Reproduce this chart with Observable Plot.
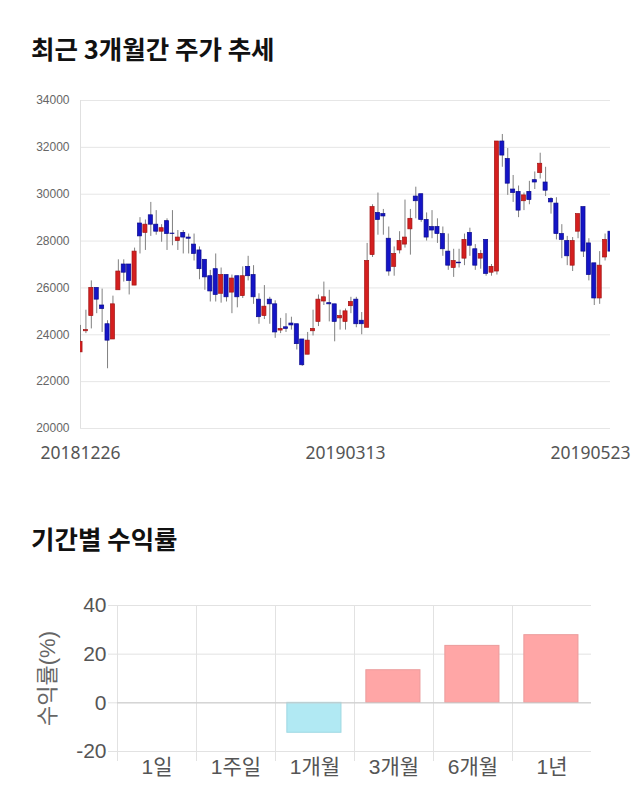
<!DOCTYPE html>
<html><head><meta charset="utf-8">
<script src="https://cdn.jsdelivr.net/npm/d3@7"></script>
<script src="https://cdn.jsdelivr.net/npm/@observablehq/plot@0.6"></script>
<style>
body{margin:0;background:#fff;width:640px;height:810px;position:relative;overflow:hidden;font-family:"Noto Sans CJK KR","Noto Sans",sans-serif;}
.title{position:absolute;left:31px;font-size:25.5px;font-weight:700;color:#111;line-height:1;white-space:nowrap;}
#t1{top:35px}
#t2{top:525px}
#c1{position:absolute;left:0;top:80px}
#c2{position:absolute;left:0;top:590px}
</style></head><body>
<div class="title" id="t1">최근 3개월간 주가 추세</div>
<div id="c1"></div>
<div class="title" id="t2">기간별 수익률</div>
<div id="c2"></div>
<script>
// ---- Candlestick data (20181226 .. 20190523) ----
const openP  = [23250,24150,24800,26000,25250,24450,23800,25900,27000,27000,26100,28750,28350,29100,28700,28400,28850,28320,28000,28350,28150,27850,27600,27200,26500,26800,25750,26550,25800,26500,25650,26900,26550,25500,24800,25500,25300,24180,24320,24480,24450,23800,23150,24150,24550,25420,25350,25300,24700,24550,25220,25500,24600,24300,27400,29200,29150,28100,26900,27600,27850,28500,29900,30000,28900,28600,28600,28300,27550,26850,27080,27250,28350,27650,27250,28050,26650,26700,32250,31500,30200,30100,29700,30100,30600,30900,30500,29800,29600,28300,28000,26950,28400,29450,27900,27050,25550,27300,28400];
const highP  = [24400,25050,26300,26000,25950,24600,25650,27200,27200,27000,27700,29000,28900,29650,29300,28700,28950,29300,28450,28450,28300,28300,27750,27200,26750,27450,26850,26550,26550,26500,26900,27350,26950,25750,26100,25600,25450,24700,24900,24750,24450,23800,24100,25050,25700,26250,25900,25300,25050,25100,25600,25600,24950,27900,29550,30050,29350,28600,27750,28400,29750,29350,30300,30000,29200,29300,28950,28600,28300,27650,27650,28300,28550,27850,27600,28050,27000,32250,32550,31950,30800,30350,30050,30550,30950,31750,31150,29850,29850,28700,28200,28150,29150,29450,28100,27050,27550,28300,28600];
const lowP   = [23250,24050,24250,24900,24100,22550,23800,25900,26250,25700,26100,27450,27600,28200,28250,27950,27600,27800,27600,27450,27450,27150,26350,25900,25400,25400,25350,25400,24900,25150,25550,26300,25300,24450,24650,24450,23850,24050,24100,24200,23350,22650,23150,23950,24350,25250,24550,23700,24200,24200,24900,24300,24000,24300,27300,28250,28250,26500,26500,27450,27700,27400,28950,28800,28000,28100,27900,27350,26750,26450,26850,26950,27350,26750,26800,26500,26500,26550,31150,29950,29650,29000,29300,29550,30200,30650,29900,29150,28050,27250,26950,26700,28100,27300,26300,25250,25300,27150,26950];
const closeP = [23700,24200,26000,25500,25100,23750,25300,26700,26650,26300,27550,28200,28700,28700,28400,28550,28300,28300,28150,28150,28100,27450,26800,26450,25850,25700,26550,25600,26400,25600,26500,26500,25600,24750,25200,25300,24100,24250,24250,24400,23600,22700,23750,24250,25500,25600,25300,24550,24800,25000,25400,24450,24450,27150,29450,28900,29050,26700,27450,28000,28150,28950,29700,28900,28150,28450,28300,27650,26950,27150,27050,28050,27800,26950,27450,26600,26900,32250,31650,30450,30050,29300,29950,29750,30500,31300,30150,29650,28300,28050,27350,28000,29150,27550,26550,25550,26950,28050,27550];
const dateTickIndex = [0, 49, 98];
const dateTickLabel = ["20181226", "20190313", "20190523"];
const priceTicks = [20000, 22000, 24000, 26000, 28000, 30000, 32000, 34000];

// ---- Period returns ----
const periods = ["1일", "1주일", "1개월", "3개월", "6개월", "1년"];
const returns = [0, 0, -12.3, 13.4, 23.4, 27.8];
const returnTicks = [-20, 0, 20, 40];

const idx = d3.range(openP.length);
const up = i => closeP[i] >= openP[i];

const chart1 = Plot.plot({
  width: 640, height: 400,
  marginTop: 20, marginBottom: 52, marginLeft: 80, marginRight: 30,
  x: {domain: [0, openP.length - 1], axis: null},
  y: {domain: [20000, 34000], axis: null},
  style: {background: "transparent", fontFamily: "'Liberation Sans', Arial, sans-serif"},
  marks: [
    Plot.gridY(priceTicks, {stroke: "#e6e6e6", strokeOpacity: 1}),
    Plot.ruleX([0], {stroke: "#e0e0e0"}),
    Plot.axisY(priceTicks, {tickSize: 0, tickPadding: 11, fontSize: 12, fill: "#666", tickFormat: d => String(d)}),
    Plot.ruleX(idx, {x: i => i, y1: i => lowP[i], y2: i => highP[i], stroke: "#808080", strokeWidth: 1, clip: true}),
    Plot.rect(idx, {
      x1: i => i - 0.38, x2: i => i + 0.38,
      y1: i => openP[i], y2: i => closeP[i],
      fill: i => up(i) ? "#d41f1f" : "#1414c6",
      stroke: i => up(i) ? "#a01414" : "#0a0a8c",
      strokeWidth: 0.7, clip: true
    }),
    Plot.text(dateTickIndex.slice(0, 2), {
      x: i => i, text: i => dateTickLabel[dateTickIndex.indexOf(i)],
      frameAnchor: "bottom", dy: 30, fontSize: 17.5, fill: "#555", fontFamily: "'Noto Sans', sans-serif"
    }),
    Plot.text(dateTickIndex.slice(2), {
      x: i => i, text: i => dateTickLabel[dateTickIndex.indexOf(i)],
      frameAnchor: "bottom", dy: 30, dx: 20, textAnchor: "end", fontSize: 17.5, fill: "#555", fontFamily: "'Noto Sans', sans-serif"
    })
  ]
});
document.getElementById("c1").append(chart1);

const pIdx = d3.range(periods.length);
const chart2 = Plot.plot({
  width: 640, height: 210,
  marginTop: 15, marginBottom: 49, marginLeft: 117, marginRight: 49,
  x: {domain: [0, periods.length], axis: null},
  y: {domain: [-20, 40], axis: null},
  style: {background: "transparent", fontFamily: "'Liberation Sans', Arial, 'Noto Sans CJK KR', sans-serif"},
  marks: [
    Plot.gridY(returnTicks, {stroke: "#e2e2e2", strokeOpacity: 1}),
    Plot.gridX(pIdx, {stroke: "#e2e2e2", strokeOpacity: 1}),
    Plot.axisX(pIdx, {tickSize: 10, stroke: "#e2e2e2", tickFormat: () => ""}),
    Plot.axisY(returnTicks, {tickSize: 9, tickPadding: 2, stroke: "#e2e2e2", fill: "#555", fontSize: 21, tickFormat: d => String(d)}),
    Plot.rect(pIdx, {
      filter: i => returns[i] !== 0,
      x1: i => i + 0.15, x2: i => i + 0.835,
      y1: 0, y2: i => returns[i],
      fill: i => returns[i] > 0 ? "#ffa6a6" : "#b1e9f3",
      stroke: i => returns[i] > 0 ? "#eb9c9c" : "#9fd8e2",
      strokeWidth: 1
    }),
    Plot.ruleY([0], {stroke: "#c9c9c9"}),
    Plot.text(pIdx, {x: i => i + 0.5, text: i => periods[i], frameAnchor: "bottom", dy: 22, fontSize: 21, fill: "#555"}),
    Plot.text(["수익률(%)"], {frameAnchor: "left", textAnchor: "middle", rotate: -90, dx: -70, fontSize: 22, fill: "#666"})
  ]
});
document.getElementById("c2").append(chart2);
</script>
</body></html>
